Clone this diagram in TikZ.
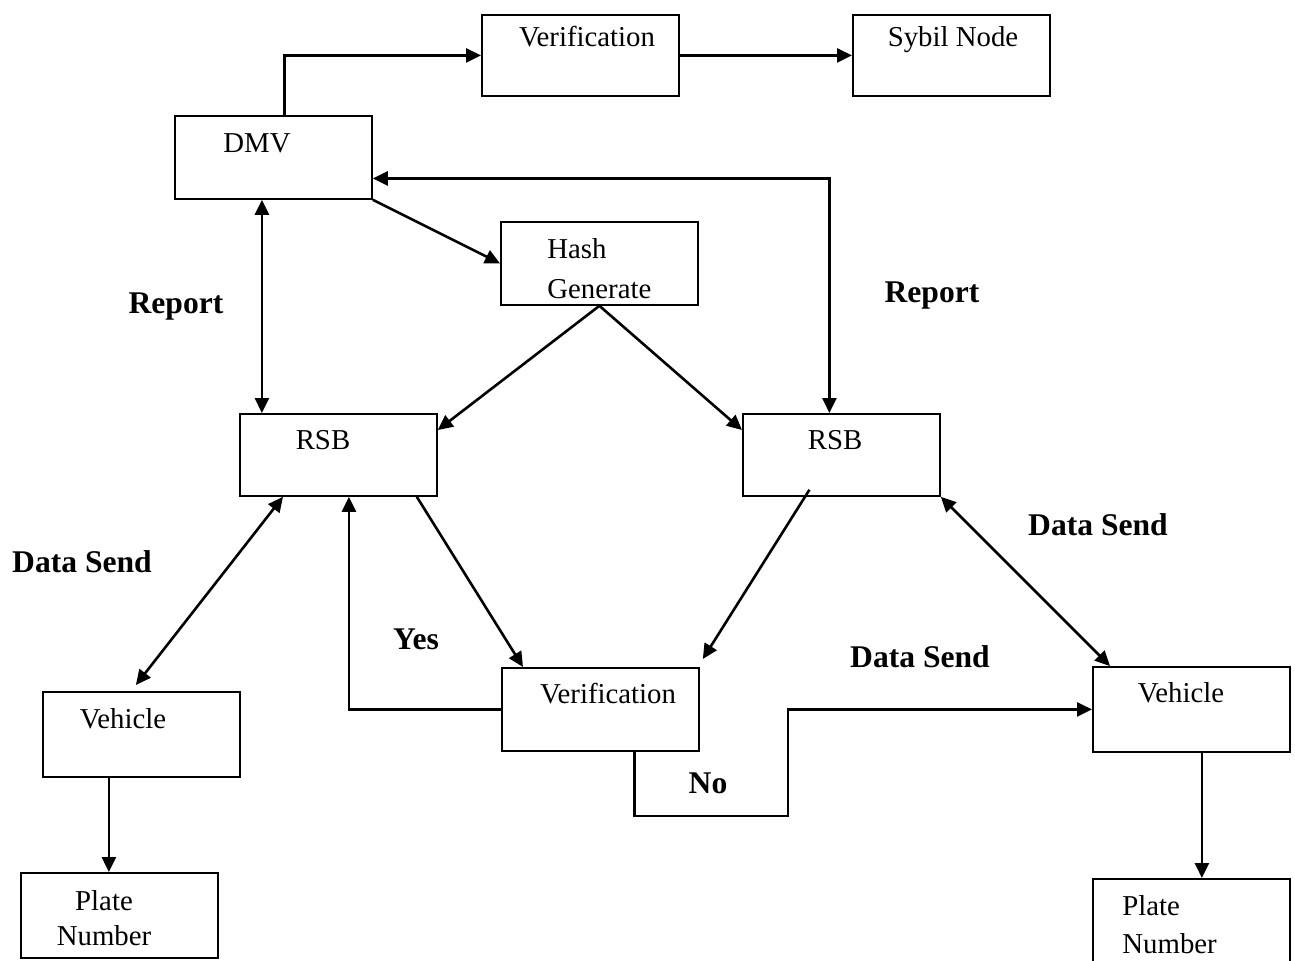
\documentclass[tikz,border=0pt]{standalone}
\usepackage{fontspec}
\setmainfont{Liberation Serif}
\usetikzlibrary{arrows.meta}
\tikzset{
	blk/.style={draw,line width=0.9pt,anchor=north west,minimum width=98.5pt,inner sep=0pt},
	txt/.style={anchor=base,inner sep=0pt,font=\fontsize{14.4}{19}\selectfont},
	lbl/.style={anchor=base,inner sep=0pt,font=\fontsize{15.8}{19}\selectfont\bfseries},
	arr/.style={line width=1.3pt,-{Triangle[length=7.5pt,width=7pt]}},
	dbl/.style={line width=1.3pt,{Triangle[length=7.5pt,width=7pt]}-{Triangle[length=7.5pt,width=7pt]}}
}

\begin{document}
\begin{tikzpicture}[x=0.5pt,y=-0.5pt]
\useasboundingbox (0,0) rectangle (1295,960);
% boxes: name/left/top/height
\foreach \name/\x/\y/\h in {
	ver1/481/14/81, sybil/852/14/81, dmv/174/115/83, hash/500/221/83,
	rsbl/239/413/82, rsbr/742/413/82, ver2/501/667/83,
	vehl/42/691/85, vehr/1092/666/85, platel/20/872/85, plater/1092/878/85%
	}{
	\node[blk,minimum height=\h*0.5pt] (\name) at (\x,\y) {};
	}
% box texts
\node[txt] (tver1) at (587,46) {Verification};
\node[txt] (tsybil) at (953,46) {Sybil Node};
\node[txt] (tdmv) at (257,152) {DMV};
\node[txt,anchor=north west,align=left] (thash) at (547,238) {Hash\\[1pt]Generate};
\node[txt] (trsbl) at (323,449) {RSB};
\node[txt] (trsbr) at (835,449) {RSB};
\node[txt] (tver2) at (608,703) {Verification};
\node[txt] (tvehl) at (123,728) {Vehicle};
\node[txt] (tvehr) at (1181,702) {Vehicle};
\node[txt,anchor=north,align=center] (tplatel) at (104,890) {Plate\\[-1.5pt]Number};
\node[txt,anchor=north west,align=left] (tplater) at (1122,895) {Plate\\Number};
% edge labels
\node[lbl] (rep1) at (176,313) {Report};
\node[lbl] (rep2) at (932,302) {Report};
\node[lbl] (ds1) at (82,572) {Data Send};
\node[lbl] (ds2) at (1098,535) {Data Send};
\node[lbl] (ds3) at (920,667) {Data Send};
\node[lbl] (yes) at (416,649) {Yes};
\node[lbl] (no) at (708,793) {No};
% connectors
\draw[arr] ([xshift=5.5pt]dmv.north) |- (ver1.west);
\draw[arr] (ver1.east) -- (sybil.west);
\draw[dbl] ([yshift=-10.5pt]dmv.east) -| ([xshift=-6pt]rsbr.north);
\draw[dbl] ([xshift=-5.75pt]dmv.south) -- ([xshift=-5.75pt]dmv.south |- rsbl.north);
\draw[arr] (dmv.south east) -- (hash.west);
\draw[arr] (hash.south) -- ([yshift=-8.5pt]rsbl.north east);
\draw[arr] (hash.south) -- ([yshift=-8.5pt]rsbr.north west);
\draw[arr] ([xshift=-10.5pt]rsbl.south east) -- ([xshift=11pt]ver2.north west);
\draw[arr] ([xshift=-16pt,yshift=3.5pt]rsbr.south) -- ([xshift=1.5pt,yshift=4pt]ver2.north east);
\draw[arr] (ver2.west) -| ([xshift=5.25pt]rsbl.south);
\draw[arr] ([xshift=17pt]ver2.south) -- ++(0,64) -- ++(153.5,0) |- (vehr.west);
\draw[dbl] ([xshift=22pt]rsbl.south west) -- ([xshift=-2.75pt,yshift=3pt]vehl.north);
\draw[dbl] (rsbr.south east) -- ([xshift=9pt]vehr.north west);
\draw[arr] ([xshift=-16.25pt]vehl.south) -- ([xshift=-16.25pt]vehl.south |- platel.north);
\draw[arr] ([xshift=5.25pt]vehr.south) -- ([xshift=5.25pt]vehr.south |- plater.north);
\end{tikzpicture}
\end{document}
